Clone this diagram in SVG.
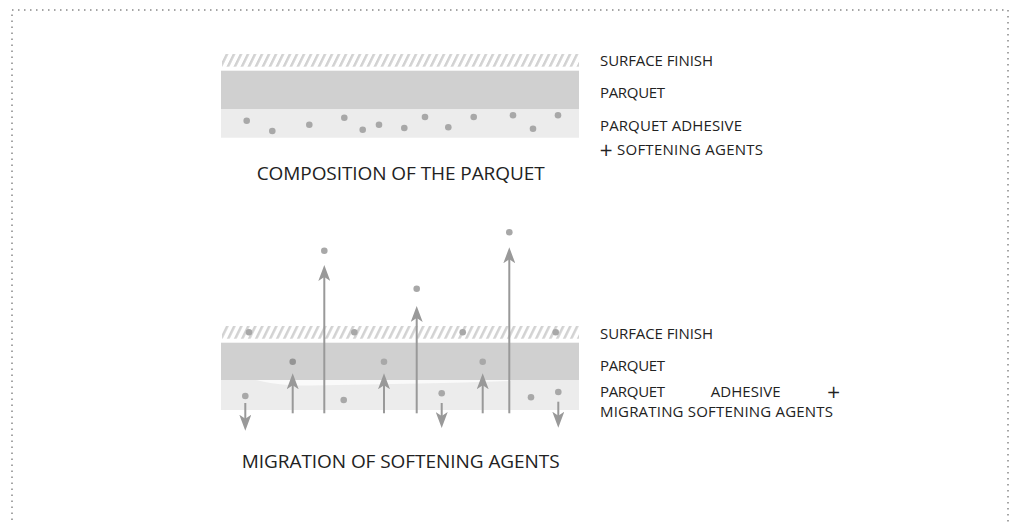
<svg xmlns="http://www.w3.org/2000/svg" width="1011" height="522" viewBox="0 0 1011 522">
<style>
.lbl{font-family:"Open Sans","Liberation Sans",sans-serif;font-size:15px;fill:#222}
.plus{font-family:"DejaVu Sans",sans-serif;font-size:17px;fill:#222}
.ttl{font-family:"Open Sans","Liberation Sans",sans-serif;font-size:19px;fill:#222}
.dot{fill:#a8a8a8}
.par{fill:#d0d0d0}
.adh{fill:#ececec}
.arr{stroke:#999;stroke-width:2;fill:none;marker-end:url(#ah)}
</style>
<defs>
<pattern id="hatch" patternUnits="userSpaceOnUse" width="7" height="20" patternTransform="skewX(-26)">
<rect x="0" y="0" width="2.8" height="20" fill="#d2d2d2"/>
</pattern>
<marker id="ah" viewBox="0 0 16 12" refX="6" refY="6" markerWidth="16" markerHeight="12" markerUnits="userSpaceOnUse" orient="auto">
<path d="M0,0 L16,6 L0,12 L4,6 Z" fill="#999"/>
</marker>
</defs>
<rect x="12" y="10" width="996" height="600" fill="none" stroke="#888" stroke-width="1.5" stroke-dasharray="1.5 4.5"/>

<g id="top-diagram">
<g id="top-finish"><rect x="222" y="54" width="357" height="12.7" fill="url(#hatch)"/></g>
<g id="top-parquet"><rect class="par" x="221" y="70.7" width="358" height="38.3"/></g>
<g id="top-adhesive">
<rect class="adh" x="221" y="109" width="358" height="28.7"/>
<circle class="dot" cx="246.7" cy="120.7" r="3.3"/>
<circle class="dot" cx="272.3" cy="131" r="3.3"/>
<circle class="dot" cx="309.3" cy="124.7" r="3.3"/>
<circle class="dot" cx="344.3" cy="117.7" r="3.3"/>
<circle class="dot" cx="362.7" cy="129.7" r="3.3"/>
<circle class="dot" cx="379" cy="124.7" r="3.3"/>
<circle class="dot" cx="404.3" cy="128" r="3.3"/>
<circle class="dot" cx="425" cy="117" r="3.3"/>
<circle class="dot" cx="448.3" cy="127.3" r="3.3"/>
<circle class="dot" cx="473.7" cy="117" r="3.3"/>
<circle class="dot" cx="513" cy="115.3" r="3.3"/>
<circle class="dot" cx="533" cy="128.7" r="3.3"/>
<circle class="dot" cx="558" cy="115.3" r="3.3"/>
</g>
<g id="top-labels">
<text class="lbl" x="600" y="66" textLength="113" lengthAdjust="spacing">SURFACE FINISH</text>
<text class="lbl" x="600" y="98" textLength="65" lengthAdjust="spacing">PARQUET</text>
<text class="lbl" x="600" y="130.5" textLength="142" lengthAdjust="spacing">PARQUET ADHESIVE</text>
<text class="plus" x="599" y="156">+</text>
<text class="lbl" x="617" y="155" textLength="146" lengthAdjust="spacing">SOFTENING AGENTS</text>
</g>
<g id="top-title"><text class="ttl" x="256.7" y="180" textLength="288" lengthAdjust="spacing">COMPOSITION OF THE PARQUET</text></g>
</g>

<g id="bottom-diagram">
<g id="bot-finish"><rect x="222" y="326" width="357" height="12.7" fill="url(#hatch)"/></g>
<g id="bot-parquet"><rect class="par" x="221" y="342.7" width="358" height="37.3"/></g>
<g id="bot-adhesive">
<rect class="adh" x="221" y="380" width="358" height="30"/>
<path d="M256,380 C268,383 285,386 310,385.5 L420,383.5 C450,383 480,382 511,381 L511,380 Z" fill="#fafafa"/>
</g>
<g id="bot-dots">
<circle class="dot" cx="249" cy="332.3" r="3.3"/>
<circle class="dot" cx="354.3" cy="332.3" r="3.3"/>
<circle class="dot" cx="462.7" cy="332.3" r="3.3"/>
<circle class="dot" cx="555.7" cy="332.3" r="3.3"/>
<circle cx="292.7" cy="361.7" r="3.3" fill="#959595"/>
<circle class="dot" cx="384" cy="361.7" r="3.3"/>
<circle class="dot" cx="482.7" cy="361.7" r="3.3"/>
<circle class="dot" cx="245.3" cy="396" r="3.3"/>
<circle class="dot" cx="343.7" cy="400" r="3.3"/>
<circle class="dot" cx="441.7" cy="393.3" r="3.3"/>
<circle class="dot" cx="531" cy="397.3" r="3.3"/>
<circle class="dot" cx="558.3" cy="392" r="3.3"/>
<circle class="dot" cx="324.3" cy="250.7" r="3.3"/>
<circle class="dot" cx="416.7" cy="288.7" r="3.3"/>
<circle class="dot" cx="509.3" cy="232.3" r="3.3"/>
</g>
<g id="connectors">
<line class="arr" x1="292.7" y1="413.3" x2="292.7" y2="383.3"/>
<line class="arr" x1="324.3" y1="413.3" x2="324.3" y2="275"/>
<line class="arr" x1="384" y1="413.3" x2="384" y2="383.3"/>
<line class="arr" x1="416.7" y1="413.3" x2="416.7" y2="316"/>
<line class="arr" x1="482.7" y1="413.3" x2="482.7" y2="383.3"/>
<line class="arr" x1="509.3" y1="413.3" x2="509.3" y2="257.3"/>
<line class="arr" x1="245.3" y1="403" x2="245.3" y2="420.7"/>
<line class="arr" x1="441.7" y1="403" x2="441.7" y2="418"/>
<line class="arr" x1="558.3" y1="401.7" x2="558.3" y2="417.7"/>
</g>
<g id="bot-labels">
<text class="lbl" x="600" y="339.3" textLength="113" lengthAdjust="spacing">SURFACE FINISH</text>
<text class="lbl" x="600" y="371" textLength="65" lengthAdjust="spacing">PARQUET</text>
<text class="lbl" x="600" y="397.3" textLength="65" lengthAdjust="spacing">PARQUET</text>
<text class="lbl" x="710.7" y="397.3" textLength="70" lengthAdjust="spacing">ADHESIVE</text>
<text class="plus" x="826.5" y="398.3">+</text>
<text class="lbl" x="600" y="417.3" textLength="233" lengthAdjust="spacing">MIGRATING SOFTENING AGENTS</text>
</g>
<g id="bot-title"><text class="ttl" x="241.7" y="468.3" textLength="318" lengthAdjust="spacing">MIGRATION OF SOFTENING AGENTS</text></g>
</g>
</svg>
